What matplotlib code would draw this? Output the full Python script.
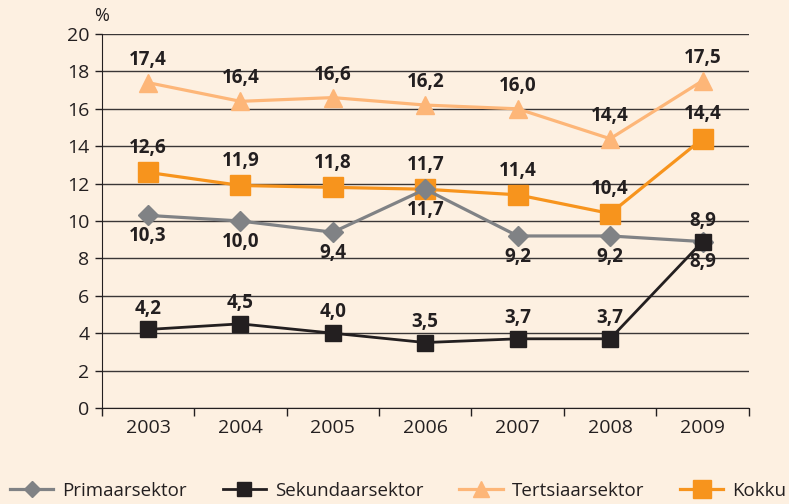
import numpy as np
import matplotlib
matplotlib.use("Agg")
import matplotlib.pyplot as plt

plt.rcParams['font.family'] = ['Open Sans', 'DejaVu Sans']

# andmed
aastad = ["2003", "2004", "2005", "2006", "2007", "2008", "2009"]
primaar = [10.3, 10.0, 9.4, 11.7, 9.2, 9.2, 8.9]
sekundaar = [4.2, 4.5, 4.0, 3.5, 3.7, 3.7, 8.9]
tertsiaar = [17.4, 16.4, 16.6, 16.2, 16.0, 14.4, 17.5]
kokku = [12.6, 11.9, 11.8, 11.7, 11.4, 10.4, 14.4]

taust = "#fdf0e1"
c_prim = "#808285"
c_sek = "#231f20"
c_ter = "#fdb678"
c_kok = "#f7941d"

fig = plt.figure(figsize=(7.89, 5.04), dpi=100, facecolor=taust)
ax = fig.add_axes([0.129, 0.1905, 0.820, 0.742], facecolor=taust)

x = np.arange(len(aastad))

l_ter, = ax.plot(x, tertsiaar, color=c_ter, lw=2.3, marker="^", ms=13, zorder=3, label="Tertsiaarsektor")
l_kok, = ax.plot(x, kokku, color=c_kok, lw=2.3, marker="s", ms=15, zorder=4, label="Kokku")
l_prim, = ax.plot(x, primaar, color=c_prim, lw=2.3, marker="D", ms=10, zorder=5, label="Primaarsektor")
l_sek, = ax.plot(x, sekundaar, color=c_sek, lw=2.0, marker="s", ms=11.5, zorder=6, label="Sekundaarsektor")

def silt(xs, ys, nihe):
    for xi, yi in zip(xs, ys):
        ax.annotate(f"{yi:.1f}".replace(".", ","), (xi, yi), xytext=(0, nihe),
                    textcoords="offset points", ha="center", va="center",
                    fontsize=13.5, fontweight="bold", color=c_sek, zorder=7)

silt(x, tertsiaar, 16.5)
silt(x, kokku, 17.5)
silt(x, primaar, -15)
silt(x, sekundaar, 15)

ax.set_xlim(-0.5, 6.5)
ax.set_ylim(0, 20)
ax.set_yticks(np.arange(0, 21, 2))
ax.set_xticks(x)
ax.set_xticklabels(aastad)
ax.set_xticks(np.arange(-0.5, 7, 1), minor=True)
ax.tick_params(axis="x", which="major", length=0, pad=8, labelsize=14, labelcolor=c_sek)
ax.tick_params(axis="x", which="minor", length=6, width=1, color=c_sek, direction="out")
ax.tick_params(axis="y", length=5, width=1, color=c_sek, pad=4, labelsize=14, labelcolor=c_sek)

ax.yaxis.grid(True, color="#3a3636", lw=1)
ax.set_axisbelow(True)
for s in ["top", "right"]:
    ax.spines[s].set_visible(False)
ax.spines["left"].set_color(c_sek)
ax.spines["bottom"].set_color(c_sek)

ax.text(0, 1.025, "%", transform=ax.transAxes, ha="center", va="bottom", fontsize=13, color=c_sek)

fig.legend(handles=[l_prim, l_sek, l_ter, l_kok], loc="center left",
           bbox_to_anchor=(10 / 789, 1 - 491 / 504), ncol=4, frameon=False,
           fontsize=13.5, handlelength=2.3, handletextpad=0.5, columnspacing=1.9,
           borderpad=0, borderaxespad=0, markerscale=0.85, labelcolor=c_sek)

fig.savefig("out.png", dpi=100, facecolor=taust)
